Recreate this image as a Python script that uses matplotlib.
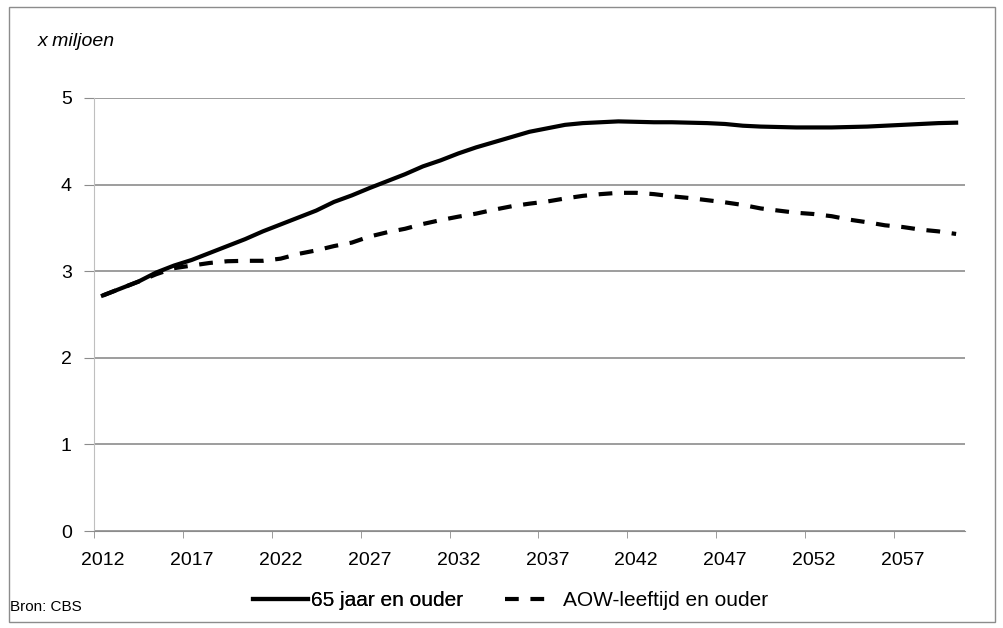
import matplotlib.pyplot as plt
from matplotlib.patches import Rectangle

years = list(range(2012, 2061))
ouder_65 = [2.72, 2.80, 2.88, 2.985, 3.065, 3.13, 3.21, 3.29, 3.37, 3.46,
            3.54, 3.62, 3.70, 3.80, 3.875, 3.96, 4.04, 4.12, 4.21, 4.28,
            4.36, 4.43, 4.49, 4.55, 4.61, 4.65, 4.69, 4.71, 4.72, 4.73,
            4.725, 4.72, 4.72, 4.715, 4.71, 4.70, 4.68, 4.67, 4.665, 4.66,
            4.66, 4.66, 4.665, 4.67, 4.68, 4.69, 4.70, 4.71, 4.715]
aow = [2.72, 2.80, 2.88, 2.965, 3.035, 3.065, 3.095, 3.115, 3.12, 3.12,
       3.145, 3.20, 3.24, 3.29, 3.33, 3.40, 3.45, 3.49, 3.545, 3.59,
       3.63, 3.665, 3.71, 3.75, 3.78, 3.805, 3.84, 3.87, 3.89, 3.905,
       3.905, 3.89, 3.865, 3.845, 3.82, 3.795, 3.765, 3.725, 3.70, 3.675,
       3.66, 3.635, 3.595, 3.565, 3.53, 3.51, 3.48, 3.46, 3.43]
label_years = [2012, 2017, 2022, 2027, 2032, 2037, 2042, 2047, 2052, 2057]
y_ticks = [0, 1, 2, 3, 4, 5]

plt.rcParams['font.family'] = ['Liberation Sans', 'DejaVu Sans']

W, H = 1004, 628
fig = plt.figure(figsize=(W / 100, H / 100), dpi=100)
fig.patch.set_facecolor('white')

# outer frame
fig.add_artist(Rectangle((9 / W, 1 - 622 / H), (995 - 9) / W, (622 - 7) / H,
                         transform=fig.transFigure, fill=False,
                         edgecolor='#8c8c8c', linewidth=1))

ax = fig.add_axes([94 / W, 1 - 531 / H, (965 - 94) / W, (531 - 98) / H])
l1, = ax.plot(years, ouder_65, color='black', linewidth=3, label='65 jaar en ouder')
l2, = ax.plot(years, aow, color='black', linewidth=3, dashes=(3.3, 2.8),
              label='AOW-leeftijd en ouder')

ax.set_xlim(2011.5, 2060.5)
ax.set_ylim(0, 5)
ax.set_yticks(y_ticks)
ax.set_yticklabels([str(v) for v in y_ticks], fontsize=14)
ax.set_xticks(label_years)
ax.set_xticklabels([str(y) for y in label_years], fontsize=14)
ax.tick_params(axis='x', length=0, pad=15)
ax.set_xticks([2011.5 + 5 * i for i in range(10)], minor=True)
ax.tick_params(axis='x', which='minor', length=5, color='#8c8c8c', direction='out')
ax.tick_params(axis='y', length=7, color='#8c8c8c', pad=9)
ax.grid(axis='y', color='#8c8c8c', linewidth=1.2)
ax.set_axisbelow(True)
for s in ['top', 'right']:
    ax.spines[s].set_visible(False)
ax.spines['left'].set_color('#bfbfbf')
ax.spines['bottom'].set_color('#8c8c8c')

fig.text(38 / W, 1 - 42 / H, 'x miljoen', fontsize=14, style='italic', va='center')
fig.text(10 / W, 1 - 607 / H, 'Bron: CBS', fontsize=11, va='center')

leg1 = fig.legend(handles=[l1], loc='center left', bbox_to_anchor=(253 / W, 1 - 601 / H),
                  frameon=False, fontsize=15, handlelength=2.65, handletextpad=0.15,
                  borderpad=0, borderaxespad=0)
fig.add_artist(leg1)
fig.legend(handles=[l2], loc='center left', bbox_to_anchor=(505 / W, 1 - 601 / H),
           frameon=False, fontsize=15, handlelength=1.95, handletextpad=0.85,
           borderpad=0, borderaxespad=0)

fig.savefig('out.png', dpi=100)
